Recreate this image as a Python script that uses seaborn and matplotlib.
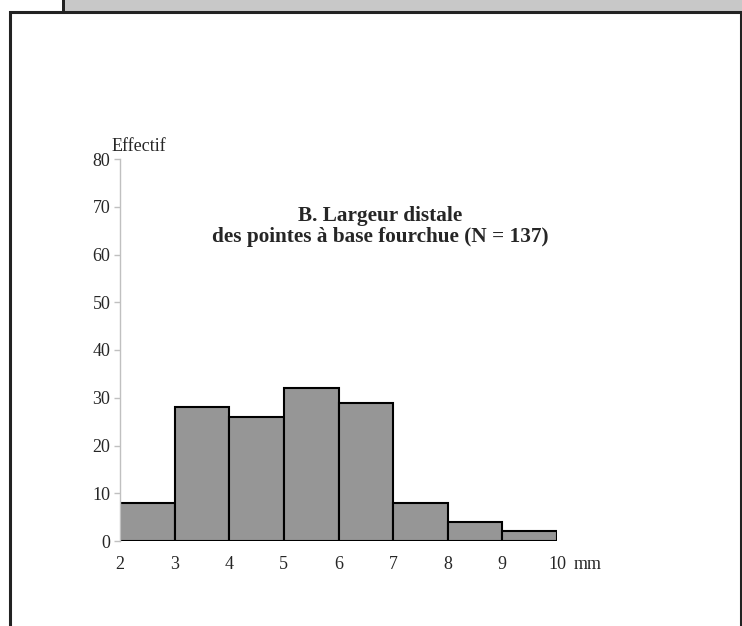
import matplotlib
matplotlib.use("Agg")
import matplotlib.pyplot as plt
from matplotlib.patches import Rectangle
import seaborn as sns

# histogramme : largeur distale (mm)
bornes = [2, 3, 4, 5, 6, 7, 8, 9, 10]
effectifs = [8, 28, 26, 32, 29, 8, 4, 2]
graduations_y = [0, 10, 20, 30, 40, 50, 60, 70, 80]
etiquettes_x = ["2", "3", "4", "5", "6", "7", "8", "9", "10"]

sns.set_style("white")
plt.rcParams["font.family"] = ["Liberation Serif", "DejaVu Serif"]

W, H = 742, 626
fig = plt.figure(figsize=(W / 100, H / 100), dpi=100)

# cadre de la page
fig.patches.append(Rectangle((64 / W, 1 - 11 / H), 1, 11 / H, transform=fig.transFigure,
                             facecolor="#c8c8c8", edgecolor="none", zorder=0))
fig.patches.append(Rectangle((62 / W, 1 - 11 / H), 2.5 / W, 11 / H, transform=fig.transFigure,
                             facecolor="#222222", edgecolor="none", zorder=1))
fig.patches.append(Rectangle((9.5 / W, -0.05), (740.5 - 9.5) / W, 1.05 - 12 / H,
                             transform=fig.transFigure, facecolor="white",
                             edgecolor="#222222", linewidth=2.2, zorder=1))

ax = fig.add_axes([120 / W, 85 / H, 437 / W, 382 / H])
ax.set_zorder(5)
ax.set_facecolor("none")

milieux = [(a + b) / 2 for a, b in zip(bornes[:-1], bornes[1:])]
sns.histplot(x=milieux, weights=effectifs, bins=bornes, ax=ax,
             color="#969696", alpha=1, edgecolor="black", linewidth=1.5)

ax.set_xlim(2, 10)
ax.set_ylim(0, 80)
ax.set_yticks(graduations_y)
ax.set_xticks(bornes)
ax.set_xticklabels(etiquettes_x)
ax.set_xlabel("")
ax.set_ylabel("")

for s in ["top", "right", "bottom"]:
    ax.spines[s].set_visible(False)
ax.spines["left"].set_color("#c0c0c0")
ax.spines["left"].set_linewidth(1)

ax.tick_params(axis="y", length=4, width=1, color="#c0c0c0", pad=3, labelsize=13, left=True)
ax.tick_params(axis="x", length=0, pad=10.5, labelsize=13)

ax.text(10.3, -0.0385, "mm", transform=ax.get_xaxis_transform(), ha="left", va="top", fontsize=13)
ax.text(-0.02, 1.01, "Effectif", transform=ax.transAxes, ha="left", va="bottom", fontsize=13)

ax.text(0.595, 65.9, "B. Largeur distale\ndes pointes à base fourchue (N = 137)",
        transform=ax.get_yaxis_transform(), ha="center", va="center",
        fontsize=15.3, fontweight="bold", linespacing=1.05)

fig.savefig("out.png", dpi=100)
